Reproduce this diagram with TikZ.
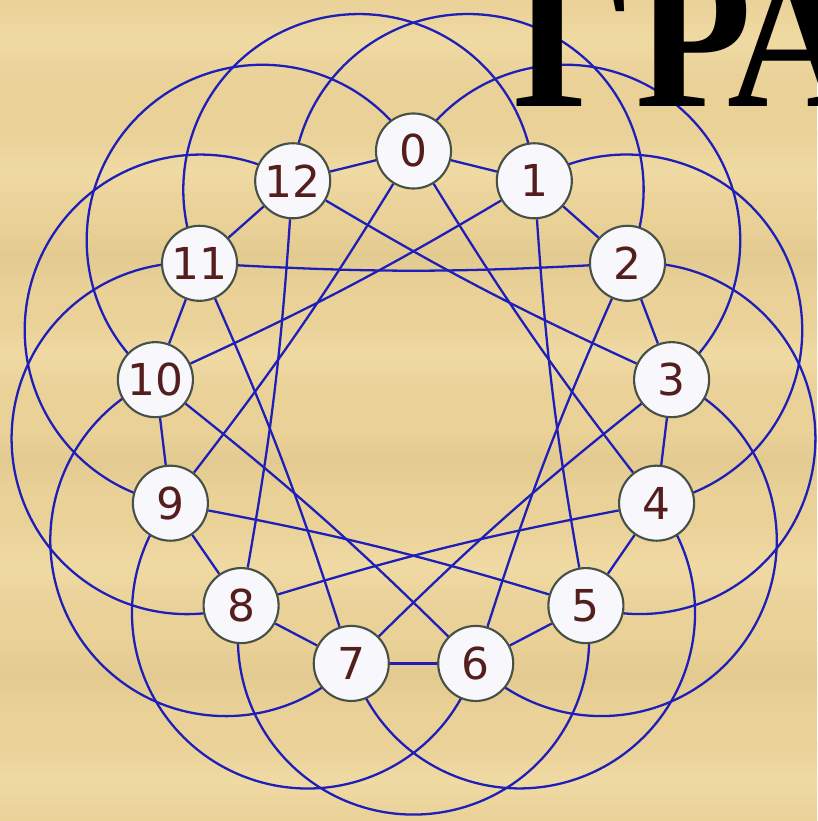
\documentclass[tikz,border=0pt]{standalone}
\usepackage{fontspec}
\setmainfont{DejaVu Sans}
\newfontfamily\titlefont{Liberation Serif}
\definecolor{paperbase}{RGB}{233,209,152}
\definecolor{paperlight}{RGB}{240,218,163}
\definecolor{paperdark}{RGB}{227,202,144}
\definecolor{edgeblue}{RGB}{30,30,185}
\definecolor{vtxborder}{RGB}{70,80,70}
\definecolor{vtxfill}{RGB}{247,247,252}
\definecolor{vtxtext}{RGB}{85,30,30}
\pgfdeclarelayer{paper}
\pgfdeclarelayer{edges}
\pgfsetlayers{paper,edges,main}
\begin{document}
\begin{tikzpicture}[x=0.01cm,y=0.01cm,
  vtx/.style={circle, draw=vtxborder, line width=0.6pt, fill=vtxfill,
    minimum size=0.75cm, inner sep=0pt,
    font=\fontsize{12.5}{12.5}\selectfont, text=vtxtext},
  link/.style={line width=0.65pt, draw=edgeblue},
  band/.style={draw=none, top color=paperbase, bottom color=paperbase, middle color=#1}]
\useasboundingbox (-413.5,-410) rectangle (403.5,411);
\begin{pgfonlayer}{paper}
  \fill[paperbase] (-413.5,-410) rectangle (403.5,411);
  \shade[band=paperlight] (-413.5,330) rectangle (403.5,411);
  \shade[band=paperlight] (-413.5,200) rectangle (403.5,280);
  \shade[band=paperdark] (-413.5,120) rectangle (403.5,190);
  \shade[band=paperlight] (-413.5,20) rectangle (403.5,90);
  \shade[band=paperdark] (-413.5,-80) rectangle (403.5,-20);
  \shade[band=paperlight] (-413.5,-200) rectangle (403.5,-110);
  \shade[band=paperdark] (-413.5,-300) rectangle (403.5,-230);
  \shade[band=paperlight] (-413.5,-410) rectangle (403.5,-330);
\end{pgfonlayer}
\begin{pgfonlayer}{edges}
\foreach \k in {0,...,12}{
  \coordinate (p\k) at ({90-\k*360/13}:260);
}
\end{pgfonlayer}
\node[anchor=base west, inner sep=0pt, text=black, xscale=0.92, transform shape,
  font=\titlefont\bfseries\fontsize{59}{59}\selectfont] (title) at (99.5,304) {ГРА};
\foreach \k in {0,...,12}
  \node[vtx] (n\k) at (p\k) {\k};
\begin{pgfonlayer}{edges}
\foreach \k in {0,...,12}{
  \pgfmathtruncatemacro\ja{mod(\k+1,13)}
  \pgfmathtruncatemacro\jb{mod(\k+4,13)}
  \pgfmathsetmacro\ang{90-(\k+1.5)*360/13}
  \draw[link] (n\k) -- (n\ja);
  \draw[link] (n\k) to[bend right=3] (n\jb);
  \draw[link] (n\k.center) arc[start angle=\ang+100.96, end angle=\ang-100.96, radius=175.6];
}
\end{pgfonlayer}
\end{tikzpicture}
\end{document}
